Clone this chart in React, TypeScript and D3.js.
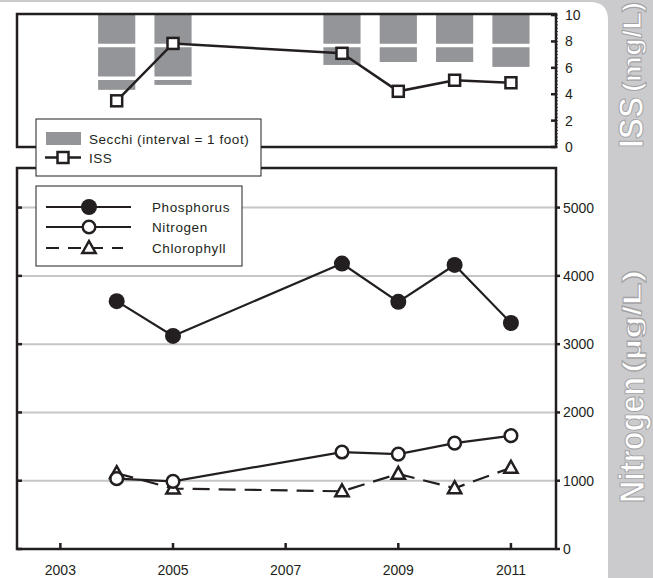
import React from "react";
import * as d3 from "d3";

// ---------- data ----------
const issYears = [2004, 2005, 2008, 2009, 2010, 2011];
const issValues = [3.5, 7.85, 7.1, 4.22, 5.06, 4.87];
const secchiFeet = [2.3, 2.15, 1.54, 1.45, 1.45, 1.6];

const years = [2004, 2005, 2008, 2009, 2010, 2011];
const phosphorus = [3630, 3120, 4180, 3620, 4160, 3310];
const nitrogen = [1030, 990, 1420, 1390, 1550, 1660];
const chlorophyll = [1110, 885, 845, 1100, 890, 1190];

const xTicks = [2003, 2005, 2007, 2009, 2011];
const bottomTicks = [0, 1000, 2000, 3000, 4000, 5000];
const topTicks = [0, 2, 4, 6, 8, 10];

const INK = "#231f20";
const FONT = "'Liberation Sans', Arial, sans-serif";

export default function App() {
  const W = 653;
  const H = 578;
  const L = 17;
  const R = 556;
  const topT = 14;
  const topB = 147;
  const botT = 168;
  const botB = 549;

  const x = d3.scaleLinear().domain([2002.23, 2011.8]).range([L, R]);
  const yTop = d3.scaleLinear().domain([0, 10.08]).range([topB, topT]);
  const ySec = d3.scaleLinear().domain([0, 4]).range([14.5, 14.5 + 131]);
  const yBot = d3.scaleLinear().domain([0, 5580]).range([botB, botT]);

  const lineTop = d3
    .line<number>()
    .x((_, i) => x(issYears[i]))
    .y((d) => yTop(d));
  const lineBot = d3
    .line<number>()
    .x((_, i) => x(years[i]))
    .y((d) => yBot(d));

  // Secchi segments (1-foot intervals)
  const secchiRects: { x: number; y: number; w: number; h: number }[] = [];
  secchiFeet.forEach((depth, i) => {
    const x0 = x(issYears[i] - 0.33);
    const x1 = x(issYears[i] + 0.33);
    for (let f = 0; f < Math.ceil(depth); f++) {
      const y0 = ySec(f);
      const full = f + 1 <= depth;
      const y1 = full ? ySec(f + 1) - 3.5 : ySec(depth);
      secchiRects.push({ x: x0, y: y0, w: x1 - x0, h: y1 - y0 });
    }
  });

  const minorTop = d3.range(0, 10.01, 0.25);

  const tri = (cx: number, cy: number, s = 7) =>
    `M${cx},${cy - s}L${cx + s * 0.95},${cy + s * 0.7}L${cx - s * 0.95},${cy + s * 0.7}Z`;

  const sq = 11;

  const sidePath = `M0,2 L${608 - 18},2 Q608,2 608,20 L608,${H} L0,${H} Z`;

  const labelStyle = {
    fontWeight: "bold" as const,
    fill: "#ffffff",
    stroke: "#a3a3a5",
    strokeWidth: 1,
  };

  return (
    <svg
      width={W}
      height={H}
      style={{ position: "absolute", left: 0, top: 0, display: "block" }}
      fontFamily={FONT}
    >
      {/* background & sidebar */}
      <rect x={0} y={0} width={W} height={H} fill="#cbcbcd" />
      <path d={sidePath} fill="#ffffff" />

      {/* sidebar labels */}
      <g transform="translate(643,148) rotate(-90)">
        <text x={0} y={0} fontSize={35} {...labelStyle} textLength={51} lengthAdjust="spacingAndGlyphs">
          ISS
        </text>
        <text x={56} y={-2} fontSize={25} {...labelStyle} textLength={90} lengthAdjust="spacingAndGlyphs">
          (mg/L)
        </text>
      </g>
      <g transform="translate(644,503) rotate(-90)">
        <text x={0} y={0} fontSize={35} {...labelStyle} textLength={126} lengthAdjust="spacingAndGlyphs">
          Nitrogen
        </text>
        <text x={130} y={-3} fontSize={25} {...labelStyle} textLength={103} lengthAdjust="spacingAndGlyphs">
          (µg/L)
        </text>
      </g>

      {/* ---------- top panel ---------- */}
      {secchiRects.map((r, i) => (
        <rect key={"s" + i} x={r.x} y={r.y} width={r.w} height={r.h} fill="#939598" />
      ))}
      <path d={lineTop(issValues) || ""} fill="none" stroke={INK} strokeWidth={2.5} />
      {issValues.map((v, i) => (
        <rect
          key={"iss" + i}
          x={x(issYears[i]) - sq / 2}
          y={yTop(v) - sq / 2}
          width={sq}
          height={sq}
          fill="#fff"
          stroke={INK}
          strokeWidth={2.5}
        />
      ))}
      <rect x={L} y={topT} width={R - L} height={topB - topT} fill="none" stroke={INK} strokeWidth={2.5} />
      {minorTop.map((t, i) => (
        <line key={"mt" + i} x1={R} x2={R + 2} y1={yTop(t)} y2={yTop(t)} stroke={INK} strokeWidth={0.8} />
      ))}
      {topTicks.map((t) => (
        <g key={"tt" + t}>
          <line x1={R - 5} x2={R} y1={yTop(t)} y2={yTop(t)} stroke={INK} strokeWidth={2.5} />
          <text x={565} y={yTop(t) + 5} fontSize={14} fill={INK}>
            {t}
          </text>
        </g>
      ))}

      {/* ---------- bottom panel ---------- */}
      {bottomTicks.slice(1).map((t) => (
        <line key={"g" + t} x1={L} x2={R} y1={yBot(t)} y2={yBot(t)} stroke="#c6c6c6" strokeWidth={2} />
      ))}
      <path d={lineBot(phosphorus) || ""} fill="none" stroke={INK} strokeWidth={2.2} />
      <path d={lineBot(nitrogen) || ""} fill="none" stroke={INK} strokeWidth={2.2} />
      <path d={lineBot(chlorophyll) || ""} fill="none" stroke={INK} strokeWidth={2.2} strokeDasharray="17,9" />
      {chlorophyll.map((v, i) => (
        <path key={"c" + i} d={tri(x(years[i]), yBot(v))} fill="#fff" stroke={INK} strokeWidth={2.5} />
      ))}
      {nitrogen.map((v, i) => (
        <circle key={"n" + i} cx={x(years[i])} cy={yBot(v)} r={6.3} fill="#fff" stroke={INK} strokeWidth={2.5} />
      ))}
      {phosphorus.map((v, i) => (
        <circle key={"p" + i} cx={x(years[i])} cy={yBot(v)} r={8} fill={INK} />
      ))}
      <rect x={L} y={botT} width={R - L} height={botB - botT} fill="none" stroke={INK} strokeWidth={2.5} />
      {bottomTicks.map((t) => (
        <g key={"bt" + t}>
          <line x1={L} x2={L + 5} y1={yBot(t)} y2={yBot(t)} stroke={INK} strokeWidth={2.5} />
          <line x1={R} x2={R + 4} y1={yBot(t)} y2={yBot(t)} stroke={INK} strokeWidth={2.5} />
          <text x={563} y={yBot(t) + 5} fontSize={14} fill={INK}>
            {t}
          </text>
        </g>
      ))}
      {xTicks.map((t) => (
        <g key={"xt" + t}>
          <line x1={x(t)} x2={x(t)} y1={botB} y2={botB - 6} stroke={INK} strokeWidth={2.5} />
          <text x={x(t)} y={575} fontSize={14} textAnchor="middle" fill={INK}>
            {t}
          </text>
        </g>
      ))}

      {/* ---------- legends ---------- */}
      <g>
        <rect x={36} y={119} width={225} height={57} fill="#fff" stroke={INK} strokeWidth={1} />
        <rect x={46} y={132} width={35} height={13} fill="#939598" />
        <text x={89} y={144} fontSize={13.5} letterSpacing={0.55} fill={INK}>
          Secchi (interval = 1 foot)
        </text>
        <line x1={45} x2={81} y1={157.5} y2={157.5} stroke={INK} strokeWidth={2.5} />
        <rect x={63 - sq / 2} y={157.5 - sq / 2} width={sq} height={sq} fill="#fff" stroke={INK} strokeWidth={2.5} />
        <text x={89} y={163} fontSize={13.5} letterSpacing={0.55} fill={INK}>
          ISS
        </text>
      </g>
      <g>
        <rect x={36} y={186} width={206} height={80} fill="#fff" stroke={INK} strokeWidth={1} />
        <line x1={46} x2={131} y1={207} y2={207} stroke={INK} strokeWidth={2.2} />
        <circle cx={89} cy={207} r={8} fill={INK} />
        <text x={152} y={212} fontSize={13.5} letterSpacing={0.6} fill={INK}>
          Phosphorus
        </text>
        <line x1={46} x2={131} y1={227} y2={227} stroke={INK} strokeWidth={2.2} />
        <circle cx={89} cy={227} r={6.3} fill="#fff" stroke={INK} strokeWidth={2.5} />
        <text x={152} y={232} fontSize={13.5} letterSpacing={0.6} fill={INK}>
          Nitrogen
        </text>
        <line x1={46} x2={123} y1={248} y2={248} stroke={INK} strokeWidth={2.2} strokeDasharray="13,9" />
        <path d={tri(89, 248)} fill="#fff" stroke={INK} strokeWidth={2.5} />
        <text x={152} y={253} fontSize={13.5} letterSpacing={0.6} fill={INK}>
          Chlorophyll
        </text>
      </g>
    </svg>
  );
}
